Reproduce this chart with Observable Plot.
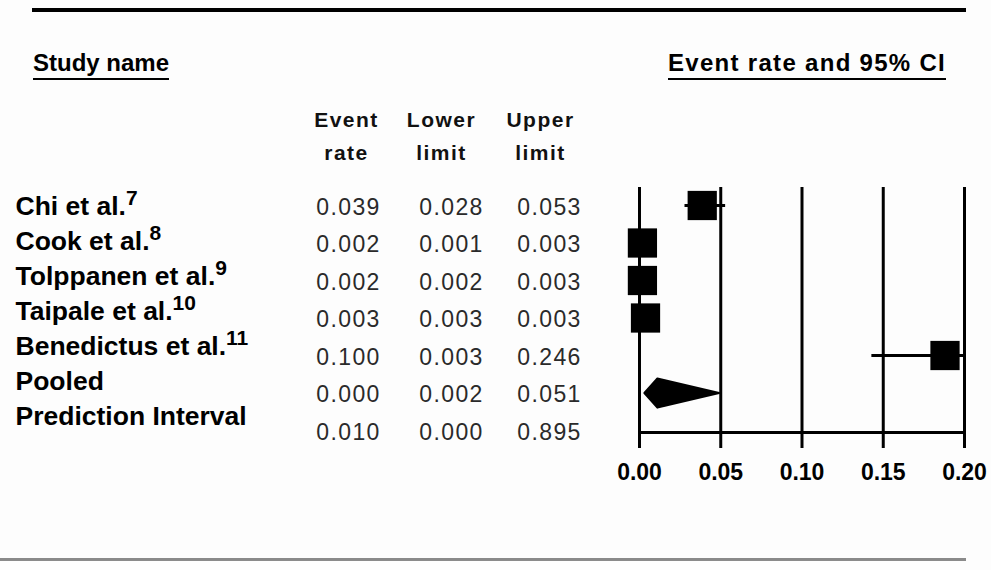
<!DOCTYPE html>
<html><head><meta charset="utf-8">
<script src="https://cdn.jsdelivr.net/npm/d3@7"></script>
<script src="https://cdn.jsdelivr.net/npm/@observablehq/plot@0.6"></script>
<style>
body{margin:0;background:#fff;}
#wrap{position:relative;width:991px;height:570px;overflow:hidden;background:#fdfdfd;}
#wrap svg{position:absolute;left:0;top:0;}
.rule-top{position:absolute;left:32px;top:8px;width:934px;height:4px;background:#000;}
.rule-bot{position:absolute;left:0;top:558px;width:966px;height:3px;background:#8a8a8a;}
.hd{position:absolute;font-family:"Liberation Sans",Arial,sans-serif;font-weight:bold;font-size:24px;color:#000;border-bottom:2px solid #000;line-height:28px;padding-bottom:1px;white-space:nowrap;}
.colhead text{letter-spacing:1.5px;}
.nums text{letter-spacing:1.4px;}
</style></head>
<body><div id="wrap">
<div class="rule-top"></div>
<div class="hd" style="left:33px;top:49px;">Study name</div>
<div class="hd" style="left:668px;top:49px;letter-spacing:1.3px">Event rate and 95% CI</div>
<div class="rule-bot"></div>
</div>
<script>
// ---- data ----
const studies = ["Chi et al.", "Cook et al.", "Tolppanen et al.", "Taipale et al.", "Benedictus et al."];
const refs = ["7", "8", "9", "10", "11"];
const summaryRows = ["Pooled", "Prediction Interval"];
const eventRateText = ["0.039", "0.002", "0.002", "0.003", "0.100", "0.000", "0.010"];
const lowerText     = ["0.028", "0.001", "0.002", "0.003", "0.003", "0.002", "0.000"];
const upperText     = ["0.053", "0.003", "0.003", "0.003", "0.246", "0.051", "0.895"];
// plotted positions (as drawn in the forest panel)
const estimate = [0.0386, 0.0018, 0.0018, 0.0037, 0.188];
const ciLower  = [0.028, 0.001, 0.002, 0.003, 0.143];
const ciUpper  = [0.053, 0.003, 0.003, 0.003, 0.246];
const pooledEstimate = 0.011, pooledLower = 0.003, pooledUpper = 0.049;
const xTicks = [0, 0.05, 0.10, 0.15, 0.20];
const columnHeaders = ["Event\nrate", "Lower\nlimit", "Upper\nlimit"];

// ---- tables built from the arrays ----
const rowNames = [...studies, ...summaryRows];
const table = rowNames.map((name, i) => ({
  i, name,
  label: i < studies.length ? name + "^" + refs[i] : name,
  er: eventRateText[i], lo: lowerText[i], hi: upperText[i]
}));
const studyRows = studies.map((name, i) => ({i, name, est: estimate[i], lo: ciLower[i], hi: ciUpper[i]}));
const pi = rowNames.indexOf("Pooled");
const h = 0.39;
const diamond = [
  {x: pooledLower, y: pi}, {x: pooledEstimate, y: pi - h},
  {x: pooledUpper, y: pi}, {x: pooledEstimate, y: pi + h}, {x: pooledLower, y: pi}
];

const FONT = "Liberation Sans, Arial, sans-serif";
const X0 = 639; // frame left
const colCenters = [348, 451, 549];
const headCenters = [346, 441, 540];

const main = Plot.plot({
  width: 991, height: 570,
  marginLeft: X0, marginRight: 27, marginTop: 187, marginBottom: 138,
  x: {domain: [0, 0.2]},
  y: {domain: [6.053, -0.48], axis: null},
  style: {background: "transparent", overflow: "visible", fontFamily: FONT},
  marks: [
    Plot.ruleX(xTicks, {strokeWidth: 3}),
    Plot.frame({anchor: "bottom", strokeWidth: 3}),
    Plot.axisX(xTicks, {tickSize: 16, strokeWidth: 3, tickPadding: 15, tickFormat: d3.format(".2f"),
      fontSize: 23, fontWeight: "bold", fontFamily: FONT, fill: "#000"}),
    Plot.ruleY(studyRows, {y: "i", x1: "lo", x2: "hi", strokeWidth: 3, clip: true}),
    Plot.dot(studyRows, {x: "est", y: "i", symbol: "square", r: 16.5, fill: "#000", stroke: null}),
    Plot.line(diamond, {x: "x", y: "y", fill: "#000", stroke: "#000", strokeWidth: 2, strokeLinejoin: "round"}),
    ...["er", "lo", "hi"].map((k, c) => Plot.text(table, {
      y: "i", text: k, frameAnchor: "left", dx: colCenters[c] - X0, dy: 2,
      textAnchor: "middle", fontSize: 23, fontFamily: FONT, fill: "#2a2a2a", className: "nums"
    })),
    ...columnHeaders.map((t, c) => Plot.text([t], {
      text: d => d, frameAnchor: "top-left", dx: headCenters[c] - X0, dy: -84,
      lineAnchor: "top", lineHeight: 1.57, textAnchor: "middle",
      fontSize: 21, fontWeight: "bold", fontFamily: FONT, fill: "#111", className: "colhead"
    }))
  ]
});

const labels = Plot.plot({
  width: 991, height: 570,
  marginLeft: 15, marginRight: 0, marginTop: 0, marginBottom: 0,
  y: {type: "point", domain: rowNames, range: [203.5, 418.5], padding: 0, axis: null},
  style: {background: "transparent", overflow: "visible", fontFamily: FONT},
  marks: [
    Plot.text(table, {y: "name", text: "label", frameAnchor: "left", textAnchor: "start",
      fontSize: 26.5, fontWeight: "bold", fontFamily: FONT, fill: "#000"})
  ]
});
d3.select(labels).selectAll("g[aria-label=text] text").each(function() {
  const parts = this.textContent.split("^");
  if (parts.length < 2) return;
  const t = d3.select(this);
  t.text(parts[0]);
  t.append("tspan").attr("font-size", 21).attr("dy", -10).text(parts[1]);
});

const wrap = document.getElementById("wrap");
wrap.appendChild(main);
wrap.appendChild(labels);
</script>
</body></html>
